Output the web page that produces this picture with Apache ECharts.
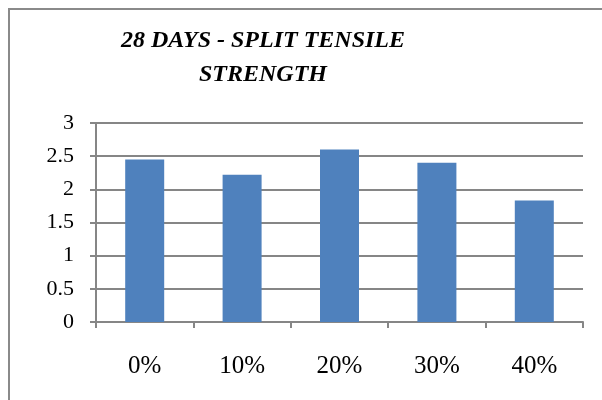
<!DOCTYPE html>
<html>
<head>
<meta charset="utf-8">
<script src="https://cdn.jsdelivr.net/npm/echarts@6/dist/echarts.min.js"></script>
<style>html,body{margin:0;padding:0;background:#fff}#c{width:602px;height:400px}</style>
</head>
<body>
<div id="c"></div>
<script>
var titleText = '28 DAYS - SPLIT TENSILE\nSTRENGTH';
var categories = ['0%', '10%', '20%', '30%', '40%'];
var values = [2.45, 2.22, 2.60, 2.40, 1.83];
var yMin = 0, yMax = 3, yStep = 0.5;

var chart = echarts.init(document.getElementById('c'), null, {renderer: 'canvas'});
var serif = '"Liberation Serif", "Times New Roman", serif';
chart.setOption({
  animation: false,
  backgroundColor: '#ffffff',
  title: {
    text: titleText,
    left: 258, top: 19, textAlign: 'center',
    textStyle: {fontFamily: serif, fontStyle: 'italic', fontWeight: 'bold', fontSize: 24, lineHeight: 34, color: '#000'}
  },
  graphic: [{
    type: 'rect', silent: true,
    shape: {x: 9, y: 9, width: 800, height: 600},
    style: {fill: 'none', stroke: '#8a8a8a', lineWidth: 2}
  }],
  grid: {left: 96, right: 19, top: 123, bottom: 78, containLabel: false},
  xAxis: {
    type: 'category', data: categories,
    axisLine: {lineStyle: {color: '#868686', width: 2}},
    axisTick: {show: true, length: 6, lineStyle: {color: '#868686', width: 2}},
    axisLabel: {fontFamily: serif, fontSize: 25, color: '#000', margin: 32}
  },
  yAxis: {
    type: 'value', min: yMin, max: yMax, interval: yStep,
    axisLine: {show: true, lineStyle: {color: '#868686', width: 2}},
    axisTick: {show: true, length: 6, lineStyle: {color: '#868686', width: 2}},
    splitLine: {lineStyle: {color: '#868686', width: 2}},
    axisLabel: {fontFamily: serif, fontSize: 22, color: '#000', margin: 22}
  },
  series: [{
    type: 'bar', data: values, barWidth: 39,
    itemStyle: {color: '#4F81BD'}
  }]
});
</script>
</body>
</html>
